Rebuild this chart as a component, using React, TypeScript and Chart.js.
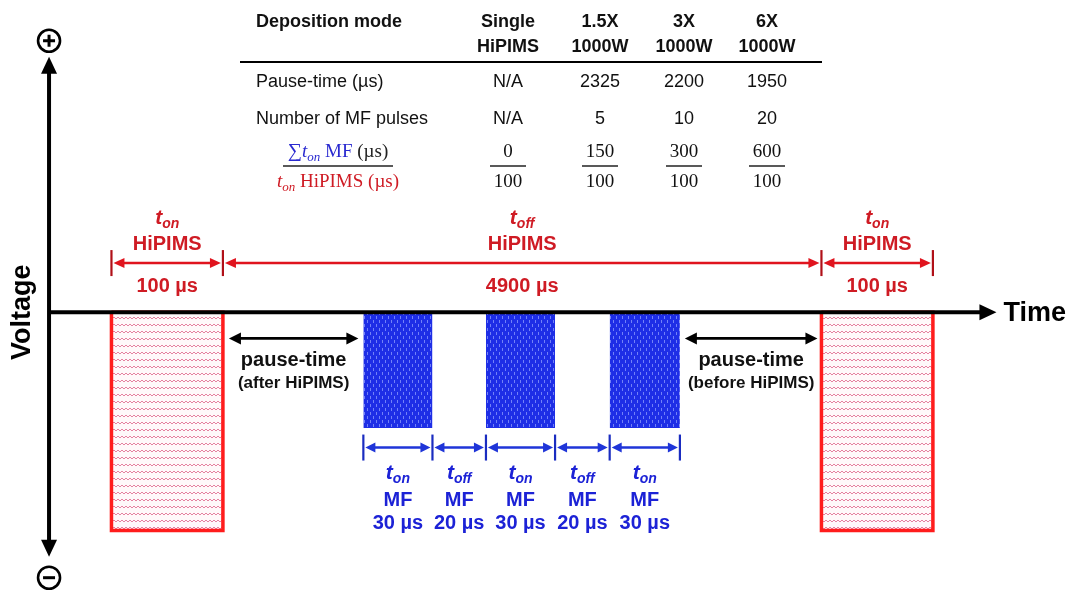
import React, { useEffect, useRef } from "react";
import { Chart, registerables } from "chart.js";
Chart.register(...registerables);

// ---- schematic waveform (display time units, voltage units) ----
const hipimsStart = [0, 637];
const hipimsEnd = [100, 737];
const hipimsLevel = -1;
const mfStart = [226, 336, 447];
const mfEnd = [288, 398, 510];
const mfLevel = -0.53;
const timeAxisRange = [-56, 794];
const voltageAxisRange = [-1.12, 1.17];
const redDimLevel = 0.225;
const blueDimLevel = -0.62;
const pauseLevel = -0.12;

// ---- durations (µs) ----
const hipimsOnUs = 100;
const hipimsOffUs = 4900;
const mfOnUs = 30;
const mfOffUs = 20;

// ---- table ----
const modeTop = ["Single", "1.5X", "3X", "6X"];
const modeBottom = ["HiPIMS", "1000W", "1000W", "1000W"];
const pauseTimes = ["N/A", "2325", "2200", "1950"];
const mfPulseCounts = ["N/A", "5", "10", "20"];
const sumTonMF = [0, 150, 300, 600];
const tonHiPIMS = [100, 100, 100, 100];

const SANS = '"Liberation Sans", Arial, Helvetica, sans-serif';
const SERIF = '"Liberation Serif", "DejaVu Serif", serif';
const RED_TXT = "#cf1b24";
const RED_BOX = "#ff1c1c";
const BLUE = "#1c22d6";

type Part = { text: string; font: string; color: string; dy?: number };

function drawParts(ctx: CanvasRenderingContext2D, parts: Part[], cx: number, baseY: number, align: "center" | "left" = "center") {
  let w = 0;
  for (const p of parts) {
    ctx.font = p.font;
    w += ctx.measureText(p.text).width;
  }
  let x = align === "center" ? cx - w / 2 : cx;
  ctx.textAlign = "left";
  ctx.textBaseline = "alphabetic";
  for (const p of parts) {
    ctx.font = p.font;
    ctx.fillStyle = p.color;
    ctx.fillText(p.text, x, baseY + (p.dy || 0));
    x += ctx.measureText(p.text).width;
  }
}

function head(ctx: CanvasRenderingContext2D, x: number, y: number, dx: number, dy: number, len: number, half: number, color: string) {
  const bx = x - dx * len;
  const by = y - dy * len;
  const px = -dy;
  const py = dx;
  ctx.beginPath();
  ctx.moveTo(x, y);
  ctx.lineTo(bx + px * half, by + py * half);
  ctx.lineTo(bx - px * half, by - py * half);
  ctx.closePath();
  ctx.fillStyle = color;
  ctx.fill();
}

function dimArrow(ctx: CanvasRenderingContext2D, x1: number, x2: number, y: number, color: string, lw: number, len: number, half: number) {
  ctx.strokeStyle = color;
  ctx.lineWidth = lw;
  ctx.beginPath();
  ctx.moveTo(x1 + len * 0.6, y);
  ctx.lineTo(x2 - len * 0.6, y);
  ctx.stroke();
  head(ctx, x1, y, -1, 0, len, half, color);
  head(ctx, x2, y, 1, 0, len, half, color);
}

function tick(ctx: CanvasRenderingContext2D, x: number, y: number, h: number, color: string, lw: number) {
  ctx.strokeStyle = color;
  ctx.lineWidth = lw;
  ctx.beginPath();
  ctx.moveTo(x, y - h);
  ctx.lineTo(x, y + h);
  ctx.stroke();
}

function tSub(sub: string, size: number, color: string, family = SANS, weight = "bold"): Part[] {
  return [
    { text: "t", font: `italic ${weight} ${size}px ${family}`, color },
    { text: sub, font: `italic ${weight} ${Math.round(size * 0.66)}px ${family}`, color, dy: size * 0.2 },
  ];
}

const diagramPlugin = {
  id: "diagram",
  afterDatasetsDraw(chart: any) {
    const ctx: CanvasRenderingContext2D = chart.ctx;
    const xs = chart.scales.x;
    const ys = chart.scales.y;
    const X = (v: number) => xs.getPixelForValue(v);
    const Y = (v: number) => ys.getPixelForValue(v);
    ctx.save();

    // ---- axes ----
    const y0 = Y(0);
    const xa = X(timeAxisRange[0]);
    const xTip = X(timeAxisRange[1]);
    ctx.strokeStyle = "#000";
    ctx.lineWidth = 4;
    ctx.beginPath();
    ctx.moveTo(xa, y0);
    ctx.lineTo(xTip - 12, y0);
    ctx.stroke();
    head(ctx, xTip, y0, 1, 0, 17, 8, "#000");
    const yTop = Y(voltageAxisRange[1]);
    const yBot = Y(voltageAxisRange[0]);
    ctx.beginPath();
    ctx.moveTo(xa, yTop + 12);
    ctx.lineTo(xa, yBot - 12);
    ctx.stroke();
    head(ctx, xa, yTop, 0, -1, 17, 8, "#000");
    head(ctx, xa, yBot, 0, 1, 17, 8, "#000");
    // plus / minus circles
    const circ = (cy: number, plus: boolean) => {
      ctx.strokeStyle = "#000";
      ctx.lineWidth = 2.6;
      ctx.beginPath();
      ctx.arc(xa, cy, 11, 0, Math.PI * 2);
      ctx.stroke();
      ctx.lineWidth = 3;
      ctx.beginPath();
      ctx.moveTo(xa - 6, cy);
      ctx.lineTo(xa + 6, cy);
      if (plus) {
        ctx.moveTo(xa, cy - 6);
        ctx.lineTo(xa, cy + 6);
      }
      ctx.stroke();
    };
    circ(yTop - 16, true);
    circ(yBot + 21, false);

    ctx.fillStyle = "#000";
    ctx.font = `bold 27px ${SANS}`;
    ctx.textAlign = "left";
    ctx.textBaseline = "middle";
    ctx.fillText("Time", xTip + 7, y0 + 1);
    ctx.save();
    ctx.translate(22, y0);
    ctx.rotate(-Math.PI / 2);
    ctx.textAlign = "center";
    ctx.font = `bold 27px ${SANS}`;
    ctx.fillText("Voltage", 0, 1);
    ctx.restore();

    // ---- HiPIMS dimension arrows (red) ----
    const yR = Y(redDimLevel);
    const hs0 = X(hipimsStart[0]);
    const he0 = X(hipimsEnd[0]);
    const hs1 = X(hipimsStart[1]);
    const he1 = X(hipimsEnd[1]);
    const redSegs: [number, number, string, string][] = [
      [hs0, he0, "on", `${hipimsOnUs} µs`],
      [he0, hs1, "off", `${hipimsOffUs} µs`],
      [hs1, he1, "on", `${hipimsOnUs} µs`],
    ];
    for (const [a, b, sub, lab] of redSegs) {
      dimArrow(ctx, a + 2, b - 2, yR, "#e0141e", 2.4, 11, 5);
      const cx = (a + b) / 2;
      drawParts(ctx, tSub(sub, 21, RED_TXT), cx, yR - 39);
      drawParts(ctx, [{ text: "HiPIMS", font: `bold 20px ${SANS}`, color: RED_TXT }], cx, yR - 13);
      drawParts(ctx, [{ text: lab, font: `bold 20px ${SANS}`, color: RED_TXT }], cx, yR + 29);
    }
    for (const x of [hs0, he0, hs1, he1]) tick(ctx, x, yR, 13, "#b01018", 2.2);

    // ---- MF dimension arrows (blue) ----
    const yB = Y(blueDimLevel);
    const edges: number[] = [];
    mfStart.forEach((s, i) => {
      edges.push(X(s));
      edges.push(X(mfEnd[i]));
    });
    for (let i = 0; i < edges.length - 1; i++) {
      const a = edges[i];
      const b = edges[i + 1];
      const on = i % 2 === 0;
      dimArrow(ctx, a + 2, b - 2, yB, "#1f35d8", 2.4, 10, 5);
      const cx = (a + b) / 2;
      drawParts(ctx, tSub(on ? "on" : "off", 21, BLUE), cx, yB + 31);
      drawParts(ctx, [{ text: "MF", font: `bold 20px ${SANS}`, color: BLUE }], cx, yB + 58);
      drawParts(ctx, [{ text: `${on ? mfOnUs : mfOffUs} µs`, font: `bold 20px ${SANS}`, color: BLUE }], cx, yB + 81);
    }
    for (const x of edges) tick(ctx, x, yB, 13, "#1a2cc0", 2.2);

    // ---- pause-time arrows ----
    const yP = Y(pauseLevel);
    const pauses: [number, number, string][] = [
      [he0 + 6, X(mfStart[0]) - 5, "(after HiPIMS)"],
      [X(mfEnd[mfEnd.length - 1]) + 5, hs1 - 4, "(before HiPIMS)"],
    ];
    for (const [a, b, lab] of pauses) {
      dimArrow(ctx, a, b, yP, "#000", 2.6, 12, 6);
      const cx = (a + b) / 2;
      drawParts(ctx, [{ text: "pause-time", font: `bold 20px ${SANS}`, color: "#111" }], cx, yP + 28);
      drawParts(ctx, [{ text: lab, font: `bold 17px ${SANS}`, color: "#111" }], cx, yP + 50);
    }

    // ---- table ----
    const cols = [508, 600, 684, 767];
    const left = 256;
    const txt = "#111";
    drawParts(ctx, [{ text: "Deposition mode", font: `bold 18px ${SANS}`, color: txt }], left, 27, "left");
    cols.forEach((c, i) => {
      drawParts(ctx, [{ text: modeTop[i], font: `bold 18px ${SANS}`, color: txt }], c, 27);
      drawParts(ctx, [{ text: modeBottom[i], font: `bold 18px ${SANS}`, color: txt }], c, 52);
      drawParts(ctx, [{ text: pauseTimes[i], font: `18px ${SANS}`, color: txt }], c, 87);
      drawParts(ctx, [{ text: mfPulseCounts[i], font: `18px ${SANS}`, color: txt }], c, 124);
      drawParts(ctx, [{ text: String(sumTonMF[i]), font: `19px ${SERIF}`, color: txt }], c, 157);
      drawParts(ctx, [{ text: String(tonHiPIMS[i]), font: `19px ${SERIF}`, color: txt }], c, 187);
      ctx.strokeStyle = "#222";
      ctx.lineWidth = 1.6;
      ctx.beginPath();
      ctx.moveTo(c - 18, 166);
      ctx.lineTo(c + 18, 166);
      ctx.stroke();
    });
    ctx.strokeStyle = "#000";
    ctx.lineWidth = 2;
    ctx.beginPath();
    ctx.moveTo(240, 62);
    ctx.lineTo(822, 62);
    ctx.stroke();
    drawParts(ctx, [{ text: "Pause-time (µs)", font: `18px ${SANS}`, color: txt }], left, 87, "left");
    drawParts(ctx, [{ text: "Number of MF pulses", font: `18px ${SANS}`, color: txt }], left, 124, "left");
    const fracCx = 338;
    const bl = "#2a2ad0";
    drawParts(ctx, [
      { text: "∑", font: `20px ${SERIF}`, color: bl },
      ...tSub("on", 19, bl, SERIF, "normal"),
      { text: " MF", font: `19px ${SERIF}`, color: bl },
      { text: " (µs)", font: `19px ${SERIF}`, color: "#222" },
    ], fracCx, 157);
    drawParts(ctx, [
      ...tSub("on", 19, RED_TXT, SERIF, "normal"),
      { text: " HiPIMS (µs)", font: `19px ${SERIF}`, color: RED_TXT },
    ], fracCx, 187);
    ctx.strokeStyle = "#222";
    ctx.lineWidth = 1.6;
    ctx.beginPath();
    ctx.moveTo(283, 166);
    ctx.lineTo(393, 166);
    ctx.stroke();

    ctx.restore();
  },
};

function makeHatch(): CanvasPattern | string {
  const c = document.createElement("canvas");
  c.width = 8;
  c.height = 7;
  const g = c.getContext("2d");
  if (!g) return "#f6c8d4";
  g.fillStyle = "#fff8fa";
  g.fillRect(0, 0, 8, 7);
  g.strokeStyle = "rgba(220,90,130,0.75)";
  g.lineWidth = 1;
  g.beginPath();
  g.moveTo(0, 4);
  g.lineTo(2, 2);
  g.lineTo(4, 4);
  g.lineTo(6, 2);
  g.lineTo(8, 4);
  g.stroke();
  return g.createPattern(c, "repeat") || "#f6c8d4";
}

function makeBlue(): CanvasPattern | string {
  const c = document.createElement("canvas");
  c.width = 6;
  c.height = 8;
  const g = c.getContext("2d");
  if (!g) return "#2333e0";
  g.fillStyle = "#1e2ee6";
  g.fillRect(0, 0, 6, 8);
  g.fillStyle = "rgba(150,165,255,0.7)";
  g.fillRect(1, 0, 1, 3);
  g.fillRect(4, 4, 1, 3);
  return g.createPattern(c, "repeat") || "#2333e0";
}

export default function App() {
  const ref = useRef<HTMLCanvasElement>(null);
  useEffect(() => {
    document.body.style.margin = "0";
    document.body.style.overflow = "hidden";
    const canvas = ref.current;
    if (!canvas) return;
    const hatch = makeHatch();
    const blue = makeBlue();
    const datasets: any[] = [];
    hipimsStart.forEach((s, i) => {
      const e = hipimsEnd[i];
      datasets.push({
        label: `HiPIMS outline ${i + 1}`,
        data: [
          { x: s, y: 0 },
          { x: s, y: hipimsLevel },
          { x: e, y: hipimsLevel },
          { x: e, y: 0 },
          { x: s, y: 0 },
        ],
        showLine: true,
        borderColor: RED_BOX,
        borderWidth: 3.5,
        borderJoinStyle: "miter",
        pointRadius: 0,
        fill: false,
        order: 0,
      });
      datasets.push({
        label: `HiPIMS pulse ${i + 1}`,
        data: [
          { x: s, y: hipimsLevel },
          { x: e, y: hipimsLevel },
        ],
        showLine: true,
        borderColor: "rgba(0,0,0,0)",
        pointRadius: 0,
        backgroundColor: hatch,
        fill: { value: 0 },
        order: 2,
      });
    });
    mfStart.forEach((s, i) => {
      const e = mfEnd[i];
      datasets.push({
        label: `MF pulse ${i + 1}`,
        data: [
          { x: s, y: mfLevel },
          { x: e, y: mfLevel },
        ],
        showLine: true,
        borderColor: "rgba(0,0,0,0)",
        pointRadius: 0,
        backgroundColor: blue,
        fill: { value: 0 },
        order: 2,
      });
    });
    const chart = new Chart(canvas, {
      type: "scatter",
      data: { datasets },
      options: {
        animation: false,
        responsive: false,
        maintainAspectRatio: false,
        layout: { padding: 0 },
        scales: {
          x: { type: "linear", min: -100, max: 860, display: false },
          y: { type: "linear", min: -1.3, max: 1.43, display: false },
        },
        plugins: { legend: { display: false }, tooltip: { enabled: false } },
      },
      plugins: [diagramPlugin],
    } as any);
    return () => chart.destroy();
  }, []);
  return <canvas ref={ref} width={1070} height={596} style={{ display: "block" }} />;
}
